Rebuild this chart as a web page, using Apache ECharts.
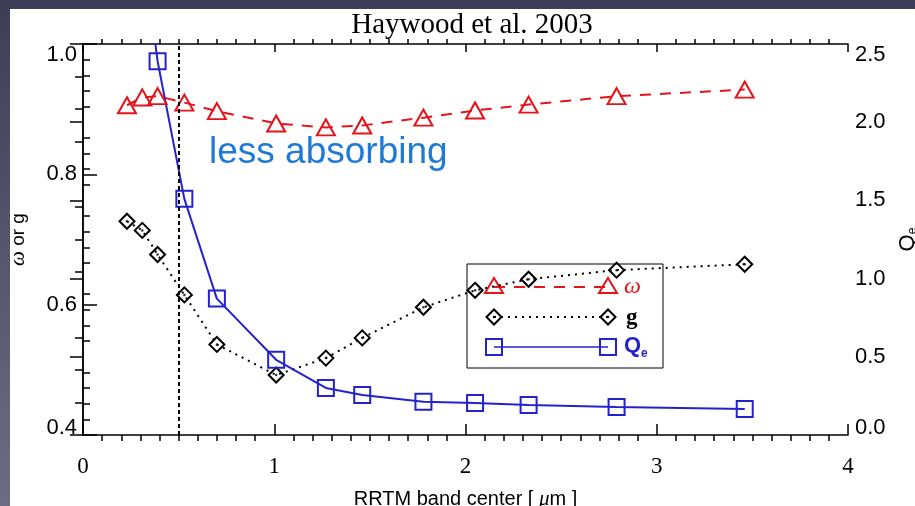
<!DOCTYPE html>
<html>
<head>
<meta charset="utf-8">
<script src="https://cdn.jsdelivr.net/npm/echarts@6/dist/echarts.min.js"></script>
<style>
  html, body { margin: 0; padding: 0; }
  body {
    width: 915px; height: 506px; overflow: hidden; position: relative;
    background: linear-gradient(180deg, #3d3d58 0%, #55556e 50%, #6c6c82 100%);
  }
  #panel { position: absolute; left: 10px; top: 9px; right: 0; bottom: 0; background: #fff; }
  #main { position: absolute; left: 0; top: 0; width: 915px; height: 506px; }
</style>
</head>
<body>
<div id="panel"></div>
<div id="main"></div>
<script>
// RRTM band centres [um]
const bandCenters = [0.23, 0.31, 0.39, 0.53, 0.70, 1.01, 1.27, 1.46, 1.78, 2.05, 2.33, 2.79, 3.46];
// single scattering albedo (left axis)
const omega = [0.906, 0.918, 0.920, 0.910, 0.897, 0.878, 0.872, 0.875, 0.887, 0.898, 0.907, 0.920, 0.930];
// asymmetry parameter (left axis)
const asym = [0.728, 0.714, 0.677, 0.615, 0.539, 0.492, 0.518, 0.549, 0.596, 0.622, 0.639, 0.653, 0.662];
// extinction efficiency (right axis), first two bands run off the top
const qext = [3.8, 3.15, 2.39, 1.51, 0.872, 0.481, 0.301, 0.256, 0.212, 0.205, 0.192, 0.179, 0.167];
const cutoff = 0.5;

const red = "#e3151b";
const blue = "#2323cc";

const pairs = ys => bandCenters.map((x, i) => [x, ys[i]]);

const chart = echarts.init(document.getElementById("main"));

// small legend drawn by hand (two markers per line, like the IDL one)
function tri(cx, cy) {
  return { type: "polygon", shape: { points: [[cx - 9, cy + 7], [cx + 9, cy + 7], [cx, cy - 8]] },
    style: { fill: "none", stroke: red, lineWidth: 2 } };
}
function dia(cx, cy) {
  return { type: "polygon", shape: { points: [[cx - 7.5, cy], [cx, cy - 7.5], [cx + 7.5, cy], [cx, cy + 7.5]] },
    style: { fill: "none", stroke: "#000", lineWidth: 2 } };
}
function sq(cx, cy) {
  return { type: "rect", shape: { x: cx - 8, y: cy - 8, width: 16, height: 16 },
    style: { fill: "none", stroke: blue, lineWidth: 2 } };
}
function dot(cx, cy) {
  return { type: "circle", shape: { cx: cx, cy: cy, r: 1.2 }, style: { fill: "#000" } };
}
const lx1 = 494, lx2 = 608;
const legendItems = [
  { type: "rect", shape: { x: 467, y: 264, width: 196, height: 104 }, style: { fill: "none", stroke: "#000", lineWidth: 1 } },
  { type: "line", shape: { x1: lx1, y1: 287, x2: lx2, y2: 287 }, style: { stroke: red, lineWidth: 2, lineDash: [11, 9] } },
  tri(lx1, 286), tri(lx2, 286),
  { type: "text", x: 624, y: 287, style: { text: "ω", fill: red, font: "italic 24px 'Liberation Serif'", verticalAlign: "middle" } },
  { type: "line", shape: { x1: lx1, y1: 317, x2: lx2, y2: 317 }, style: { stroke: "#000", lineWidth: 2, lineDash: [2, 5] } },
  dia(lx1, 317), dia(lx2, 317), dot(lx1, 317), dot(lx2, 317),
  { type: "text", x: 626, y: 318, style: { text: "g", fill: "#000", font: "bold 23px 'Liberation Serif'", verticalAlign: "middle" } },
  { type: "line", shape: { x1: lx1, y1: 347, x2: lx2, y2: 347 }, style: { stroke: blue, lineWidth: 1.5 } },
  sq(lx1, 347), sq(lx2, 347),
  { type: "text", x: 624, y: 346, style: { text: "Q", fill: blue, font: "bold 22px 'Liberation Sans'", verticalAlign: "middle" } },
  { type: "text", x: 641, y: 354, style: { text: "e", fill: blue, font: "bold 12px 'Liberation Sans'", verticalAlign: "middle" } }
];

const axisColor = "#000";
const tickStyle = { color: axisColor, width: 1.5 };

chart.setOption({
  animation: false,
  title: {
    text: "Haywood et al. 2003",
    left: 467,
    top: 6,
    textAlign: "center",
    textStyle: { fontFamily: "Liberation Serif", fontWeight: "normal", fontSize: 29, color: "#000" }
  },
  grid: { left: 83, right: 67, top: 44, bottom: 71, show: false, containLabel: false, outerBoundsMode: "none" },
  xAxis: [
    {
      type: "value", min: 0, max: 4, interval: 1, position: "bottom",
      name: "{n|RRTM band center [ }{mu|μ}{n|m ]}",
      nameLocation: "middle", nameGap: 54,
      nameTextStyle: {
        rich: {
          n: { fontFamily: "Liberation Sans", fontSize: 20, color: "#000" },
          mu: { fontFamily: "Liberation Serif", fontStyle: "italic", fontSize: 21, color: "#000" }
        }
      },
      axisLine: { lineStyle: { color: axisColor, width: 1.5 } },
      axisTick: { inside: true, length: 11, lineStyle: tickStyle },
      minorTick: { show: true, splitNumber: 10, length: -6, lineStyle: tickStyle },
      axisLabel: { margin: 20, fontFamily: "Liberation Serif", fontSize: 23, color: "#000" },
      splitLine: { show: false }
    },
    {
      type: "value", min: 0, max: 4, interval: 1, position: "top",
      axisLine: { lineStyle: { color: axisColor, width: 1.5 } },
      axisTick: { inside: true, length: 8, lineStyle: tickStyle },
      minorTick: { show: true, splitNumber: 10, length: -5, lineStyle: tickStyle },
      axisLabel: { show: false },
      splitLine: { show: false }
    }
  ],
  yAxis: [
    {
      type: "value", min: 0.4, max: 1.0, interval: 0.2, position: "left",
      name: "{w|ω}{n| or g}",
      nameLocation: "middle", nameGap: 54, nameRotate: 90,
      nameTextStyle: {
        rich: {
          w: { fontFamily: "Liberation Serif", fontStyle: "italic", fontSize: 21, color: "#000" },
          n: { fontFamily: "Liberation Sans", fontSize: 19, color: "#000" }
        }
      },
      axisLine: { lineStyle: { color: axisColor, width: 1.5 } },
      axisTick: { inside: true, length: 14, lineStyle: tickStyle },
      minorTick: { show: true, splitNumber: 4, length: -8, lineStyle: tickStyle },
      axisLabel: {
        margin: 6, fontFamily: "Liberation Sans", fontSize: 22, color: "#000",
        formatter: v => {
          const s = v.toFixed(1);
          if (Math.abs(v - 1.0) < 1e-6) return "{t|" + s + "}";
          if (Math.abs(v - 0.4) < 1e-6) return "{b|" + s + "}";
          return s;
        },
        rich: {
          t: { fontFamily: "Liberation Sans", fontSize: 22, color: "#000", padding: [22, 0, 0, 0] },
          b: { fontFamily: "Liberation Sans", fontSize: 22, color: "#000", padding: [0, 0, 14, 0] }
        }
      },
      splitLine: { show: false }
    },
    {
      type: "value", min: 0, max: 2.5, interval: 0.5, position: "right",
      name: "{q|Q}{e|e}",
      nameLocation: "middle", nameGap: 47, nameRotate: 90,
      nameTextStyle: {
        rich: {
          q: { fontFamily: "Liberation Sans", fontSize: 22, color: "#000" },
          e: { fontFamily: "Liberation Sans", fontSize: 12, color: "#000", verticalAlign: "bottom", padding: [8, 0, 0, 0] }
        }
      },
      axisLine: { lineStyle: { color: axisColor, width: 1.5 } },
      axisTick: { inside: true, length: 13, lineStyle: tickStyle },
      minorTick: { show: true, splitNumber: 5, length: -7, lineStyle: tickStyle },
      axisLabel: {
        margin: 7, fontFamily: "Liberation Sans", fontSize: 22, color: "#000",
        formatter: v => {
          const s = v.toFixed(1);
          if (Math.abs(v - 2.5) < 1e-6) return "{t|" + s + "}";
          if (Math.abs(v) < 1e-6) return "{b|" + s + "}";
          return s;
        },
        rich: {
          t: { fontFamily: "Liberation Sans", fontSize: 22, color: "#000", padding: [22, 0, 0, 0] },
          b: { fontFamily: "Liberation Sans", fontSize: 22, color: "#000", padding: [0, 0, 14, 0] }
        }
      },
      splitLine: { show: false }
    }
  ],
  graphic: [
    {
      type: "text", left: 209, top: 134,
      style: { text: "less absorbing", fill: "#1f7ad6", font: "37px 'Liberation Sans'" }
    }
  ].concat(legendItems),
  series: [
    {
      name: "ω", type: "line", yAxisIndex: 0, data: pairs(omega), clip: true,
      symbol: "triangle", symbolSize: [18, 16], showAllSymbol: true,
      itemStyle: { color: "rgba(0,0,0,0)", borderColor: red, borderWidth: 2 },
      lineStyle: { color: red, width: 2, type: [11, 9] },
      markLine: {
        silent: true, symbol: ["none", "none"], label: { show: false },
        lineStyle: { color: "#000", width: 2, type: [4, 3] },
        data: [{ xAxis: cutoff }]
      },
      z: 3
    },
    {
      name: "g", type: "line", yAxisIndex: 0, data: pairs(asym), clip: true,
      symbol: "diamond", symbolSize: 15, showAllSymbol: true,
      itemStyle: { color: "rgba(0,0,0,0)", borderColor: "#000", borderWidth: 2 },
      lineStyle: { color: "#000", width: 2, type: [2, 5] },
      z: 3
    },
    {
      name: "g dots", type: "scatter", yAxisIndex: 0, data: pairs(asym), silent: true,
      symbol: "circle", symbolSize: 2.5, itemStyle: { color: "#000" }, z: 4
    },
    {
      name: "Qe", type: "line", yAxisIndex: 1, data: pairs(qext), clip: true,
      symbol: "rect", symbolSize: 16, showAllSymbol: true,
      itemStyle: { color: "rgba(0,0,0,0)", borderColor: blue, borderWidth: 2 },
      lineStyle: { color: blue, width: 2 },
      z: 3
    }
  ]
});
</script>
</body>
</html>
